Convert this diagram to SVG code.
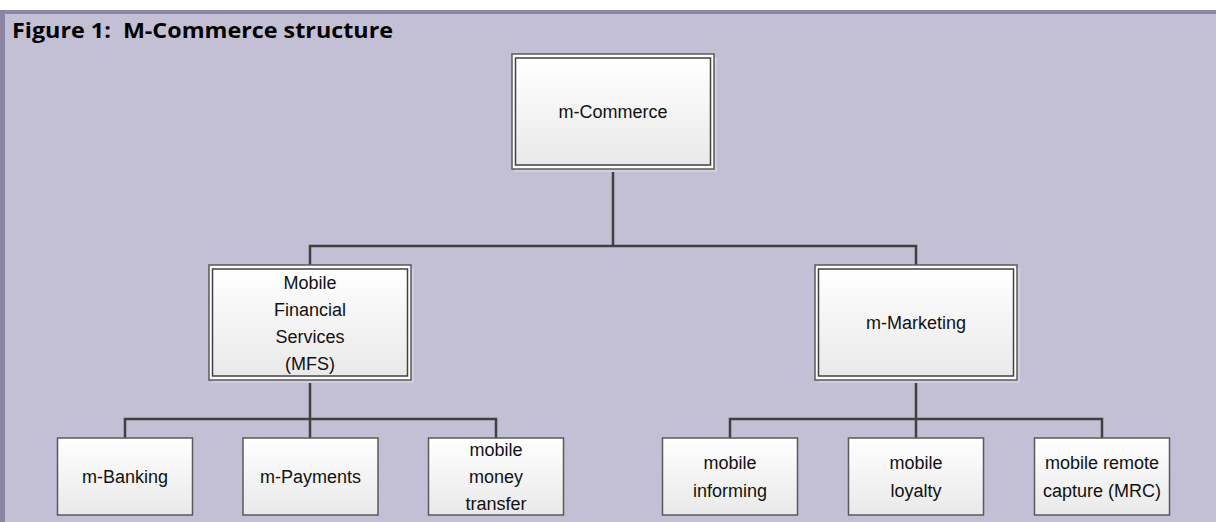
<svg xmlns="http://www.w3.org/2000/svg" width="1216" height="522" viewBox="0 0 1216 522">
  <defs>
    <linearGradient id="boxFill" x1="0" y1="0" x2="0" y2="1">
      <stop offset="0" stop-color="#ffffff"/>
      <stop offset="1" stop-color="#e9e9e9"/>
    </linearGradient>
  </defs>
  <style>
    .frame { fill: #c3bfd5; }
    .frameEdge { fill: #8a84a5; }
    .shadow { fill: #d2cfdf; }
    .outer { fill: #ffffff; stroke: #5a5a5a; stroke-width: 1.5; }
    .inner { fill: url(#boxFill); stroke: #404040; stroke-width: 1.5; }
    .leaf { fill: url(#boxFill); stroke: #5a5a5a; stroke-width: 1.5; }
    .wire { fill: none; stroke: #404040; stroke-width: 2.5; }
    .label { font-family: "Liberation Sans", Arial, sans-serif; font-size: 18px; fill: #111111; text-anchor: middle; }
    .title { font-family: "Open Sans", "Liberation Sans", sans-serif; font-size: 22px; font-weight: bold; fill: #000000; white-space: pre; }
  </style>

  <!-- panel background -->
  <rect class="frame" x="0" y="10" width="1216" height="512"/>
  <rect class="frameEdge" x="0" y="10" width="1216" height="4"/>
  <rect class="frameEdge" x="0" y="10" width="5" height="512"/>

  <text class="title" x="12" y="38" textLength="381" lengthAdjust="spacingAndGlyphs" xml:space="preserve">Figure 1:  M-Commerce structure</text>

  <!-- connectors -->
  <g id="connectors">
    <line class="wire" x1="613" y1="169" x2="613" y2="246"/>
    <polyline class="wire" points="310,265 310,246 916,246 916,265"/>
    <line class="wire" x1="310" y1="380" x2="310" y2="419"/>
    <polyline class="wire" points="125,438 125,419 496,419 496,438"/>
    <line class="wire" x1="310" y1="419" x2="310" y2="438"/>
    <line class="wire" x1="916" y1="381" x2="916" y2="419"/>
    <polyline class="wire" points="730,438 730,419 1102,419 1102,438"/>
    <line class="wire" x1="916" y1="419" x2="916" y2="438"/>
  </g>

  <!-- top level -->
  <g id="m-commerce">
    <rect class="shadow" x="515" y="57" width="202" height="115"/>
    <rect class="outer" x="512" y="54" width="202" height="115"/>
    <rect class="inner" x="515.5" y="58" width="195" height="107"/>
    <text class="label" x="613" y="118">m-Commerce</text>
  </g>

  <!-- second level -->
  <g id="mfs">
    <rect class="shadow" x="212" y="268" width="202" height="115"/>
    <rect class="outer" x="209" y="265" width="202" height="115"/>
    <rect class="inner" x="212.5" y="269" width="195" height="107"/>
    <text class="label" x="310" y="289">Mobile</text>
    <text class="label" x="310" y="316">Financial</text>
    <text class="label" x="310" y="343">Services</text>
    <text class="label" x="310" y="370">(MFS)</text>
  </g>

  <g id="m-marketing">
    <rect class="shadow" x="818" y="268" width="202" height="115"/>
    <rect class="outer" x="815" y="265" width="202" height="115"/>
    <rect class="inner" x="818.5" y="269" width="195" height="107"/>
    <text class="label" x="916" y="329">m-Marketing</text>
  </g>

  <!-- leaves under MFS -->
  <g id="m-banking">
    <rect class="leaf" x="57.5" y="438" width="135" height="77"/>
    <text class="label" x="125" y="483">m-Banking</text>
  </g>
  <g id="m-payments">
    <rect class="leaf" x="243" y="438" width="135" height="77"/>
    <text class="label" x="310.5" y="483">m-Payments</text>
  </g>
  <g id="mobile-money-transfer">
    <rect class="leaf" x="428.5" y="438" width="135" height="77"/>
    <text class="label" x="496" y="456">mobile</text>
    <text class="label" x="496" y="483">money</text>
    <text class="label" x="496" y="510">transfer</text>
  </g>

  <!-- leaves under m-Marketing -->
  <g id="mobile-informing">
    <rect class="leaf" x="662.5" y="438" width="135" height="77"/>
    <text class="label" x="730" y="469">mobile</text>
    <text class="label" x="730" y="497">informing</text>
  </g>
  <g id="mobile-loyalty">
    <rect class="leaf" x="848.5" y="438" width="135" height="77"/>
    <text class="label" x="916" y="469">mobile</text>
    <text class="label" x="916" y="497">loyalty</text>
  </g>
  <g id="mobile-remote-capture">
    <rect class="leaf" x="1034.5" y="438" width="135" height="77"/>
    <text class="label" x="1102" y="469">mobile remote</text>
    <text class="label" x="1102" y="497">capture (MRC)</text>
  </g>
</svg>
